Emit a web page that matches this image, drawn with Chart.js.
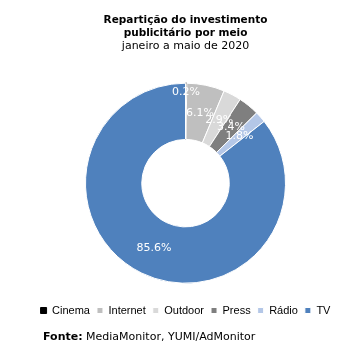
<!DOCTYPE html>
<html>
<head>
    <meta charset="utf-8">
    <title>Repartição do investimento</title>
    <script src="https://cdn.jsdelivr.net/npm/chart.js@4.4.0/dist/chart.umd.min.js"></script>
    <style>
        body { margin: 0; background: #fff; }
        #wrap { position: relative; width: 355px; height: 356px; }
        #fonte { position: absolute; left: 43px; top: 330px; font: 11px "DejaVu Sans", Verdana, sans-serif; color: #000; white-space: nowrap; }
    </style>
</head>
<body>
    <div id="wrap">
        <canvas id="myChart" width="355" height="356"></canvas>
        <div id="fonte"><b>Fonte:</b> MediaMonitor, YUMI/AdMonitor</div>
    </div>
    <script>
        // dados
        const categories = ['Cinema', 'Internet', 'Outdoor', 'Press', 'Rádio', 'TV'];
        const shares = [0.2, 6.1, 2.9, 3.4, 1.8, 85.6];
        const colors = ['#000000', '#bfbfbf', '#d9d9d9', '#7f7f7f', '#b4c7e7', '#4f81bd'];

        // white % labels on the ring
        const sliceLabels = {
            id: 'sliceLabels',
            afterDatasetsDraw(chart) {
                const ctx = chart.ctx;
                const meta = chart.getDatasetMeta(0);
                ctx.save();
                ctx.font = '11px "DejaVu Sans", Verdana, sans-serif';
                ctx.fillStyle = '#ffffff';
                ctx.textAlign = 'center';
                ctx.textBaseline = 'middle';
                meta.data.forEach(function (arc, i) {
                    const p = arc.getProps(['x', 'y', 'startAngle', 'endAngle', 'innerRadius', 'outerRadius'], true);
                    const mid = (p.startAngle + p.endAngle) / 2;
                    let r = (p.innerRadius + p.outerRadius) / 2;
                    if (i === 0) r = p.outerRadius - 9;
                    ctx.fillText(shares[i].toFixed(1) + '%', p.x + Math.cos(mid) * r, p.y + Math.sin(mid) * r);
                });
                ctx.restore();
            }
        };

        const config = {
            type: 'doughnut',
            data: {
                labels: categories,
                datasets: [{
                    data: shares,
                    backgroundColor: colors,
                    borderColor: ['#000000', '#ffffff', '#ffffff', '#ffffff', '#ffffff', '#ffffff'],
                    borderWidth: 1
                }]
            },
            options: {
                responsive: false,
                animation: false,
                radius: 100,
                cutout: 50,
                layout: { padding: { left: 16, right: 0, top: 0, bottom: 30 } },
                plugins: {
                    title: {
                        display: true,
                        text: ['Repartição do investimento', 'publicitário por meio'],
                        color: '#000',
                        font: { family: '"DejaVu Sans", Verdana, sans-serif', size: 10.5, weight: 'bold' },
                        padding: { top: 14, bottom: 0 }
                    },
                    subtitle: {
                        display: true,
                        text: 'janeiro a maio de 2020',
                        color: '#000',
                        font: { family: '"DejaVu Sans", Verdana, sans-serif', size: 11 },
                        padding: { top: 0, bottom: 16 }
                    },
                    legend: {
                        position: 'bottom',
                        labels: {
                            boxWidth: 6,
                            boxHeight: 6,
                            padding: 7,
                            color: '#000',
                            font: { family: '"Liberation Sans", Arial, sans-serif', size: 11 }
                        }
                    },
                    tooltip: { enabled: false }
                }
            },
            plugins: [sliceLabels]
        };

        const myChart = new Chart(document.getElementById('myChart'), config);
    </script>
</body>
</html>
